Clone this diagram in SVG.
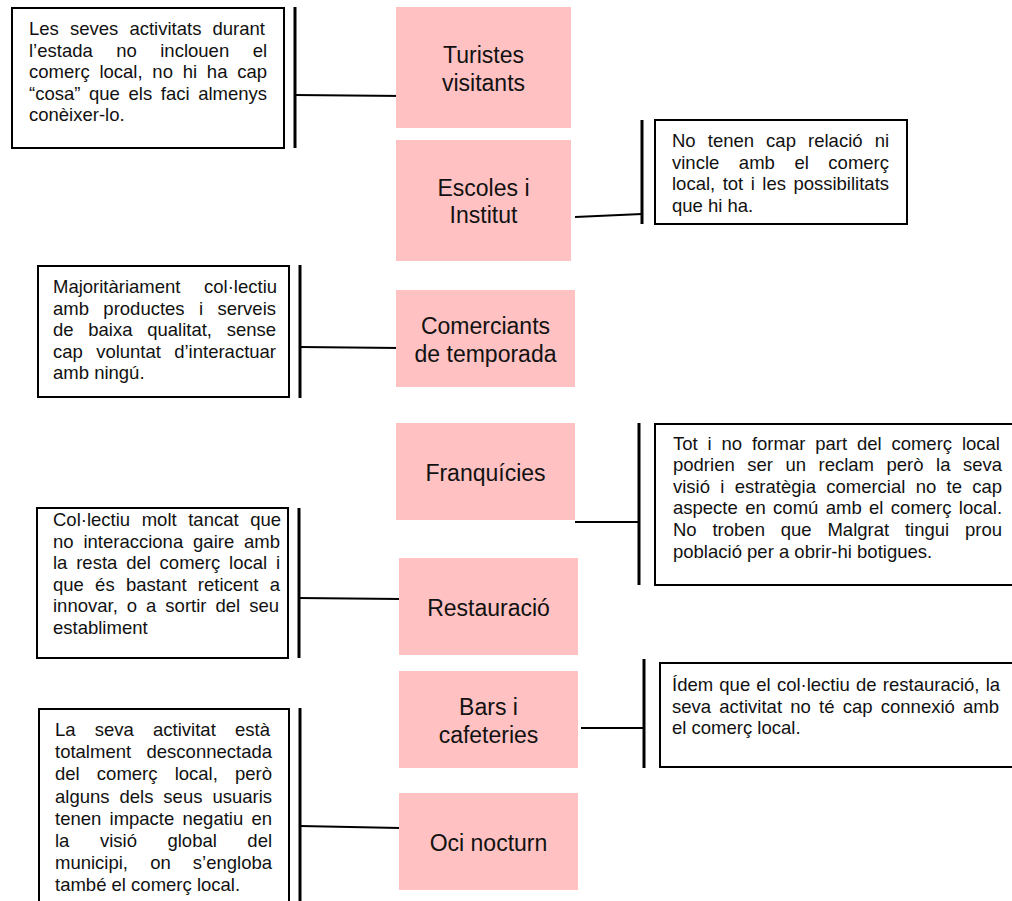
<svg xmlns="http://www.w3.org/2000/svg" width="1012" height="901" viewBox="0 0 1012 901">
<style>
.pink{fill:#FFC1C1;stroke:none}
.lbl{font-family:"Liberation Sans",Arial,sans-serif;font-size:23px;fill:#111;text-anchor:middle}
.note{fill:#fff;stroke:#000;stroke-width:2}
.txt{font-family:"Liberation Sans",Arial,sans-serif;font-size:18.5px;fill:#111}
.br{stroke:#000;stroke-width:3;fill:none}
.cn{stroke:#000;stroke-width:2;fill:none}
</style>
<rect width="1012" height="901" fill="#fff"/>

<g id="connectors">
<line class="br" x1="295" y1="7" x2="295" y2="148"/>
<line class="cn" x1="295" y1="95" x2="404" y2="96"/>
<line class="br" x1="642" y1="120" x2="642" y2="224"/>
<line class="cn" x1="575" y1="217" x2="642" y2="214"/>
<line class="br" x1="300" y1="265" x2="300" y2="398"/>
<line class="cn" x1="300" y1="347" x2="400" y2="348"/>
<line class="br" x1="639" y1="423" x2="639" y2="585"/>
<line class="cn" x1="575" y1="522" x2="639" y2="522"/>
<line class="br" x1="299" y1="508" x2="299" y2="658"/>
<line class="cn" x1="299" y1="598" x2="400" y2="599"/>
<line class="br" x1="644" y1="659" x2="644" y2="768"/>
<line class="cn" x1="581" y1="728" x2="644" y2="728"/>
<line class="br" x1="300" y1="708" x2="300" y2="901"/>
<line class="cn" x1="300" y1="826" x2="400" y2="828"/>
</g>

<g id="turistes">
<rect class="pink" x="396" y="7" width="175" height="121"/>
<text class="lbl" x="483.5" y="63">Turistes</text>
<text class="lbl" x="483.5" y="91">visitants</text>
</g>
<g id="escoles">
<rect class="pink" x="396" y="140" width="175" height="121"/>
<text class="lbl" x="483.5" y="196">Escoles i</text>
<text class="lbl" x="483.5" y="223">Institut</text>
</g>
<g id="comerciants">
<rect class="pink" x="396" y="290" width="179" height="97"/>
<text class="lbl" x="485.5" y="334">Comerciants</text>
<text class="lbl" x="485.5" y="362">de temporada</text>
</g>
<g id="franquicies">
<rect class="pink" x="396" y="423" width="179" height="97"/>
<text class="lbl" x="485.5" y="481">Franquícies</text>
</g>
<g id="restauracio">
<rect class="pink" x="399" y="558" width="179" height="97"/>
<text class="lbl" x="488.5" y="616">Restauració</text>
</g>
<g id="bars">
<rect class="pink" x="399" y="671" width="179" height="97"/>
<text class="lbl" x="488.5" y="715">Bars i</text>
<text class="lbl" x="488.5" y="743">cafeteries</text>
</g>
<g id="oci">
<rect class="pink" x="399" y="793" width="179" height="97"/>
<text class="lbl" x="488.5" y="851">Oci nocturn</text>
</g>

<g id="note-turistes">
<rect class="note" x="12" y="8" width="272" height="140"/>
<text class="txt" x="29" y="35" word-spacing="5.99">Les seves activitats durant</text>
<text class="txt" x="29" y="56.6" word-spacing="18.32">l’estada no inclouen el</text>
<text class="txt" x="29" y="78.2" word-spacing="4.62">comerç local, no hi ha cap</text>
<text class="txt" x="29" y="99.8" word-spacing="3.47">“cosa” que els faci almenys</text>
<text class="txt" x="29" y="121.4">conèixer-lo.</text>
</g>

<g id="note-escoles">
<rect class="note" x="655" y="120" width="252" height="104"/>
<text class="txt" x="672" y="147" word-spacing="6.95">No tenen cap relació ni</text>
<text class="txt" x="672" y="168.6" word-spacing="14.42">vincle amb el comerç</text>
<text class="txt" x="672" y="190.2" word-spacing="2.33">local, tot i les possibilitats</text>
<text class="txt" x="672" y="211.8">que hi ha.</text>
</g>

<g id="note-comerciants">
<rect class="note" x="38" y="266" width="251" height="131"/>
<text class="txt" x="53" y="293" word-spacing="18.43">Majoritàriament col·lectiu</text>
<text class="txt" x="53" y="314.6" word-spacing="9.22">amb productes i serveis</text>
<text class="txt" x="53" y="336.2" word-spacing="9.55">de baixa qualitat, sense</text>
<text class="txt" x="53" y="357.8" word-spacing="8.16">cap voluntat d’interactuar</text>
<text class="txt" x="53" y="379.4">amb ningú.</text>
</g>

<g id="note-franquicies">
<rect class="note" x="655" y="424" width="400" height="161"/>
<text class="txt" x="673" y="449.5" word-spacing="4.70">Tot i no formar part del comerç local</text>
<text class="txt" x="673" y="471.1" word-spacing="7.37">podrien ser un reclam però la seva</text>
<text class="txt" x="673" y="492.7" word-spacing="5.14">visió i estratègia comercial no te cap</text>
<text class="txt" x="673" y="514.3" word-spacing="2.23">aspecte en comú amb el comerç local.</text>
<text class="txt" x="673" y="535.9" word-spacing="10.69">No troben que Malgrat tingui prou</text>
<text class="txt" x="673" y="557.5">població per a obrir-hi botigues.</text>
</g>

<g id="note-restauracio">
<rect class="note" x="37" y="508" width="251" height="150"/>
<text class="txt" x="53" y="526" word-spacing="6.43">Col·lectiu molt tancat que</text>
<text class="txt" x="53" y="547.6" word-spacing="4.72">no interacciona gaire amb</text>
<text class="txt" x="53" y="569.2" word-spacing="3.66">la resta del comerç local i</text>
<text class="txt" x="53" y="590.8" word-spacing="6.10">que és bastant reticent a</text>
<text class="txt" x="53" y="612.4" word-spacing="3.86">innovar, o a sortir del seu</text>
<text class="txt" x="53" y="634">establiment</text>
</g>

<g id="note-bars">
<rect class="note" x="660" y="663" width="400" height="104"/>
<text class="txt" x="672" y="691" word-spacing="1.03">Ídem que el col·lectiu de restauració, la</text>
<text class="txt" x="672" y="712.6" word-spacing="3.09">seva activitat no té cap connexió amb</text>
<text class="txt" x="672" y="734.2">el comerç local.</text>
</g>

<g id="note-oci">
<rect class="note" x="39" y="709" width="250" height="200"/>
<text class="txt" x="55" y="736" word-spacing="14.06">La seva activitat està</text>
<text class="txt" x="55" y="758.2" word-spacing="10.3">totalment desconnectada</text>
<text class="txt" x="55" y="780.4" word-spacing="12.02">del comerç local, però</text>
<text class="txt" x="55" y="802.6" word-spacing="4.81">alguns dels seus usuaris</text>
<text class="txt" x="55" y="824.8" word-spacing="3.09">tenen impacte negatiu en</text>
<text class="txt" x="55" y="847" word-spacing="25.38">la visió global del</text>
<text class="txt" x="55" y="869.2" word-spacing="17.0">municipi, on s’engloba</text>
<text class="txt" x="55" y="891.4">també el comerç local.</text>
</g>
</svg>
